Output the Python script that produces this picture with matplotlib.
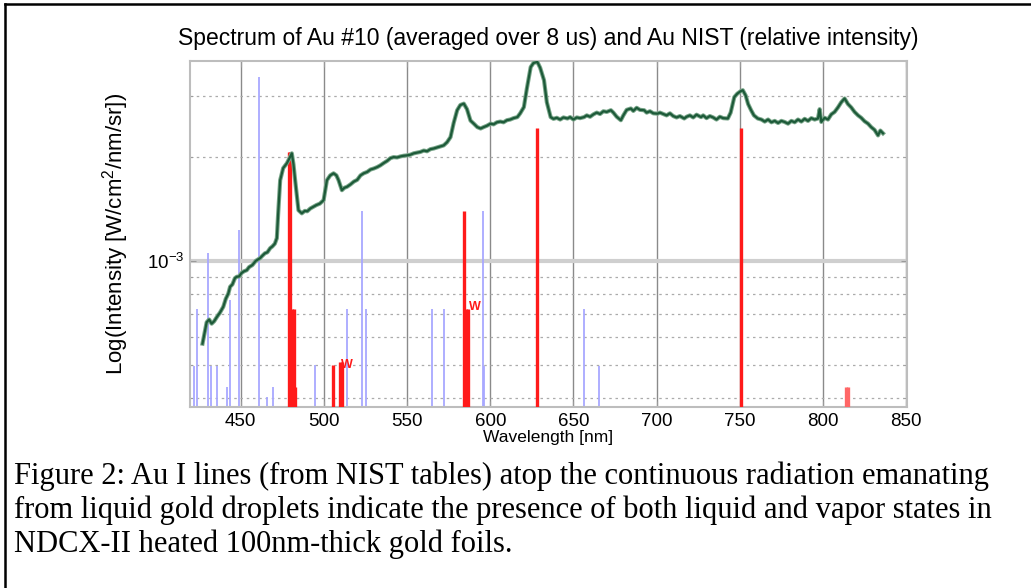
import matplotlib
matplotlib.use("Agg")
import matplotlib.pyplot as plt
from matplotlib.lines import Line2D
from matplotlib.ticker import NullFormatter, LogLocator, FixedLocator
import numpy as np

# measured spectrum (wavelength nm, log10 intensity)
wl = [427, 428, 429.5, 431, 432.5, 434, 436, 437.5, 439.5, 441, 442.5, 443.6, 445, 446.5,
      447.6, 449, 450.5, 452, 453.6, 455, 457, 459, 461.6, 463, 464.5, 466, 467.7, 469,
      470.5, 471.7, 472.5, 473.7, 475.5, 477.7, 479, 480.7, 481.7, 482.7, 484.7, 486.7,
      488.5, 490, 491.8, 493.7, 495.5, 497.5, 499.8, 501.8, 503.8, 505.8, 507.5, 508.8,
      510.8, 512.3, 513.9, 516, 518, 520, 522, 523.9, 526, 528, 530, 532, 533.9, 536, 538,
      540, 541.9, 544, 546, 548, 550, 552, 554, 556, 558, 560, 562, 564, 566, 568, 570,
      572, 574, 576.1, 578, 580.1, 582, 584.1, 586, 588.1, 590.1, 592.2, 594.2, 596, 598,
      600.2, 602, 604, 606, 608, 610, 612, 614, 616.3, 618, 620.2, 622, 624.3, 626, 628.3,
      630, 632.3, 634, 636.3, 638, 640, 642, 644, 646.4, 648, 650, 652, 654, 656.4, 658,
      660, 662, 664, 666, 668, 670, 672.5, 674, 676, 678.5, 680, 682, 684.5, 686, 688, 690,
      692.5, 694, 696, 698, 700.6, 702, 704, 706, 708, 710, 712, 714, 716.6, 718, 720, 722,
      724, 726.7, 728, 730, 732, 734, 736, 738, 740, 742.8, 744.5, 746.7, 748.5, 750.5,
      751.8, 753.5, 755, 756.8, 758.5, 760.8, 763, 765, 767, 769, 771, 773, 775, 776.9,
      779, 781, 783, 785, 787, 789, 791, 793, 795, 797, 798, 799, 801, 803, 805, 807, 809,
      811, 813, 815, 817, 819, 821.1, 823, 825, 827.1, 829, 831, 833.1, 834.5, 836.1]
log_int = [-3.240, -3.215, -3.178, -3.170, -3.182, -3.175, -3.160, -3.150, -3.133, -3.110,
           -3.095, -3.075, -3.068, -3.050, -3.046, -3.045, -3.035, -3.030, -3.027, -3.018,
           -3.012, -3.000, -2.992, -2.985, -2.978, -2.975, -2.963, -2.958, -2.950, -2.934,
           -2.862, -2.766, -2.731, -2.717, -2.705, -2.688, -2.720, -2.766, -2.853, -2.862,
           -2.855, -2.856, -2.848, -2.843, -2.838, -2.834, -2.824, -2.766, -2.752, -2.746,
           -2.752, -2.766, -2.795, -2.788, -2.785, -2.778, -2.770, -2.765, -2.752, -2.746,
           -2.742, -2.735, -2.732, -2.728, -2.723, -2.716, -2.710, -2.702, -2.699, -2.700,
           -2.697, -2.695, -2.694, -2.692, -2.688, -2.686, -2.684, -2.680, -2.682, -2.676,
           -2.674, -2.671, -2.668, -2.665, -2.656, -2.641, -2.600, -2.563, -2.548, -2.544,
           -2.560, -2.593, -2.602, -2.612, -2.616, -2.612, -2.608, -2.602, -2.604, -2.598,
           -2.596, -2.598, -2.592, -2.590, -2.586, -2.583, -2.572, -2.554, -2.500, -2.438,
           -2.426, -2.423, -2.440, -2.476, -2.540, -2.583, -2.588, -2.585, -2.590, -2.584,
           -2.587, -2.583, -2.590, -2.584, -2.586, -2.583, -2.578, -2.582, -2.575, -2.570,
           -2.574, -2.566, -2.568, -2.563, -2.570, -2.582, -2.592, -2.578, -2.562, -2.558,
           -2.565, -2.556, -2.562, -2.563, -2.570, -2.566, -2.572, -2.573, -2.570, -2.574,
           -2.578, -2.572, -2.580, -2.584, -2.580, -2.587, -2.582, -2.578, -2.584, -2.576,
           -2.583, -2.578, -2.586, -2.580, -2.584, -2.590, -2.582, -2.586, -2.587, -2.570,
           -2.525, -2.515, -2.508, -2.505, -2.520, -2.545, -2.563, -2.578, -2.587, -2.590,
           -2.596, -2.590, -2.598, -2.594, -2.600, -2.594, -2.597, -2.602, -2.594, -2.598,
           -2.590, -2.596, -2.588, -2.594, -2.586, -2.590, -2.587, -2.560, -2.597, -2.585,
           -2.590, -2.575, -2.568, -2.555, -2.540, -2.529, -2.545, -2.555, -2.568, -2.578,
           -2.585, -2.595, -2.602, -2.612, -2.620, -2.636, -2.622, -2.630]

# NIST Au I lines, relative intensity (blue)
nist_wl = [421.9, 423.9, 430.5, 432.1, 435.5, 441.9, 443.6, 449.2, 461.2, 466.0, 469.3,
           494.8, 513.9, 522.9, 525.5, 565.1, 572.0, 595.5, 596.2, 656.4, 665.1]
nist_log = [-3.305, -3.138, -2.977, -3.305, -3.305, -3.365, -3.114, -2.911, -2.467, -3.395,
            -3.366, -3.302, -3.138, -2.855, -3.138, -3.138, -3.138, -2.855, -3.305, -3.138,
            -3.305]

# identified lines (red)
au_wl = [478.8, 479.6, 481.0, 482.0, 482.8, 505.5, 509.6, 511.0, 584.0, 585.4, 586.4,
         627.8, 750.8]
au_log = [-2.684, -2.684, -3.138, -3.138, -3.365, -3.302, -3.293, -3.293, -2.855, -3.138,
          -3.138, -2.616, -2.616]
weak_wl = [814.0, 815.2]
weak_log = [-3.365, -3.365]

w_labels = [(587.0, -3.150), (510.5, -3.318)]

xticks = [450, 500, 550, 600, 650, 700, 750, 800, 850]

plt.rcParams['font.family'] = ['Liberation Sans', 'DejaVu Sans']

fig = plt.figure(figsize=(10.31, 5.88), dpi=100)
ax = fig.add_axes([0.1843, 0.3078, 0.6954, 0.5885])

ax.set_yscale('log')
ax.vlines(nist_wl, 1e-5, 10 ** np.array(nist_log), color='#a8a8ff', lw=1.3, zorder=2)
ax.vlines(au_wl, 1e-5, 10 ** np.array(au_log), color='#ff1a1a', lw=2.4, zorder=3)
ax.vlines(weak_wl, 1e-5, 10 ** np.array(weak_log), color='#ff6666', lw=2.4, zorder=3)
ax.plot(wl, 10 ** np.array(log_int), color='#7aa68a', lw=3.0, zorder=4)
ax.plot(wl, 10 ** np.array(log_int), color='#1d5a39', lw=1.6, zorder=5)
for x, y in w_labels:
    ax.text(x, 10 ** y, 'W', color='#ff1a1a', fontsize=9, fontweight='bold',
            ha='left', va='bottom', zorder=6)

ax.set_xlim(419.5, 850.5)
ax.set_ylim(3.77e-4, 3.8e-3)

ax.set_xticks(xticks)
ax.set_xticklabels([str(t) for t in xticks])
ax.yaxis.set_major_locator(FixedLocator([1e-3]))
ax.set_yticklabels([r'$\mathregular{10^{-3}}$'])
ax.yaxis.set_minor_locator(LogLocator(base=10, subs=np.arange(2, 10)))
ax.yaxis.set_minor_formatter(NullFormatter())

ax.set_axisbelow(True)
ax.grid(True, axis='x', which='major', color='#8a8a8a', lw=1.0)
ax.grid(True, axis='y', which='major', color='#cfcfcf', lw=3.0)
ax.grid(True, axis='y', which='minor', color='#ababab', lw=0.9, linestyle=(0, (2, 3)))
for t in ax.yaxis.get_minor_ticks():
    v = t.get_loc()
    if abs(v - 9e-4) < 1e-6 or abs(v - 3e-3) < 1e-6:
        t.gridline.set_color('#dadada')
        t.gridline.set_linewidth(3.0)
        t.gridline.set_linestyle((0, (6, 2)))

ax.tick_params(axis='both', which='both', direction='in', top=True, right=True,
               color='#9a9a9a', labelsize=13.5, pad=4)
ax.tick_params(axis='both', which='major', length=4)
ax.tick_params(axis='both', which='minor', length=2)
for s in ax.spines.values():
    s.set_color('#bdbdbd')
    s.set_linewidth(1.5)

ax.set_xlabel('Wavelength [nm]', fontsize=12.5, labelpad=0)
ax.set_ylabel(r'Log(Intensity [W/cm$\mathregular{^2}$/nm/sr])', fontsize=16)
ax.yaxis.set_label_coords(-0.082, 0.5)

fig.text(0.532, 0.935, 'Spectrum of Au #10 (averaged over 8 us) and Au NIST (relative intensity)',
         ha='center', va='center', fontsize=16.5)

caption = ['Figure 2: Au I lines (from NIST tables) atop the continuous radiation emanating',
           'from liquid gold droplets indicate the presence of both liquid and vapor states in',
           'NDCX-II heated 100nm-thick gold foils.']
for i, line in enumerate(caption):
    fig.text(14 / 1031, 1 - (484 + 34 * i) / 588, line, ha='left', va='baseline',
             fontsize=22, family='Liberation Serif')

fig.add_artist(Line2D([0.0048, 0.0048], [0, 0.993], transform=fig.transFigure,
                      color='black', lw=1.8))
fig.add_artist(Line2D([0.0048, 1.0], [0.993, 0.993], transform=fig.transFigure,
                      color='black', lw=1.8))

fig.savefig('out.png', dpi=100)
